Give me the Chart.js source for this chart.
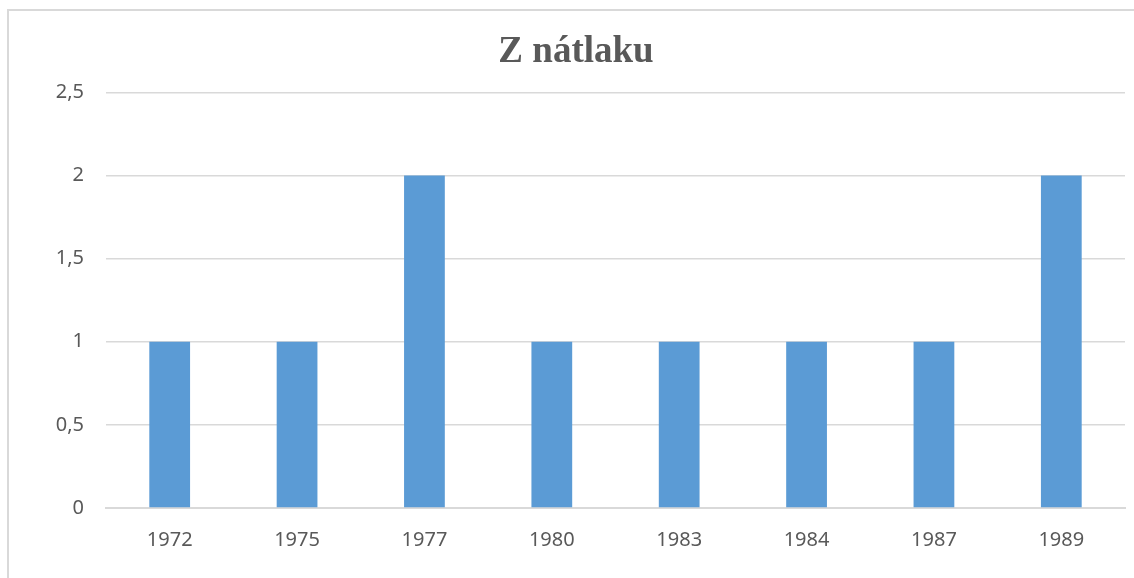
<!DOCTYPE html>
<html>
<head>
<meta charset="utf-8">
<script src="https://cdn.jsdelivr.net/npm/chart.js@4.4.1/dist/chart.umd.min.js"></script>
<style>
  html, body { margin: 0; padding: 0; background: #fff; overflow: hidden; }
  #frame {
    position: absolute; left: 7px; top: 9px; width: 1150px; height: 600px;
    border: 2px solid #d9d9d9; box-sizing: border-box;
  }
  #wrap { position: absolute; left: 0; top: 0; width: 1134px; height: 578px; }
</style>
</head>
<body>
<div id="frame"></div>
<div id="wrap"><canvas id="barChart"></canvas></div>
<script>
const years = ["1972", "1975", "1977", "1980", "1983", "1984", "1987", "1989"];
const counts = [1, 1, 2, 1, 1, 1, 1, 2];
const chartTitle = "Z nátlaku";

const ctx = document.getElementById("barChart").getContext("2d");

const barChart = new Chart(ctx, {
  type: "bar",
  data: {
    labels: years,
    datasets: [
      {
        label: chartTitle,
        data: counts,
        backgroundColor: "#5b9bd5",
        borderWidth: 0,
        barPercentage: 0.32,
        categoryPercentage: 1,
      },
    ],
  },
  options: {
    responsive: true,
    maintainAspectRatio: false,
    animation: false,
    layout: {
      padding: { left: 27, right: 9, top: 10, bottom: 6 },
    },
    plugins: {
      legend: { display: false },
      tooltip: { enabled: false },
      title: {
        display: true,
        text: chartTitle,
        color: "#595959",
        font: { family: "'Liberation Serif', 'Times New Roman', serif", size: 37, weight: "bold" },
        padding: { top: 20, bottom: 18 },
      },
    },
    scales: {
      x: {
        grid: { display: false, drawTicks: false },
        border: { color: "#d9d9d9", width: 2 },
        ticks: {
          color: "#595959",
          font: { family: "'Noto Sans', sans-serif", size: 20 },
          padding: 20,
        },
      },
      y: {
        min: 0,
        max: 2.5,
        afterFit: function (scale) {
          scale.width = 79;
        },
        grid: { color: "#d9d9d9", lineWidth: 1.5, drawTicks: false },
        border: { display: false },
        ticks: {
          stepSize: 0.5,
          color: "#595959",
          font: { family: "'Noto Sans', sans-serif", size: 20 },
          padding: 22,
          callback: function (value) {
            return value.toString().replace(".", ",");
          },
        },
      },
    },
  },
});
</script>
</body>
</html>
